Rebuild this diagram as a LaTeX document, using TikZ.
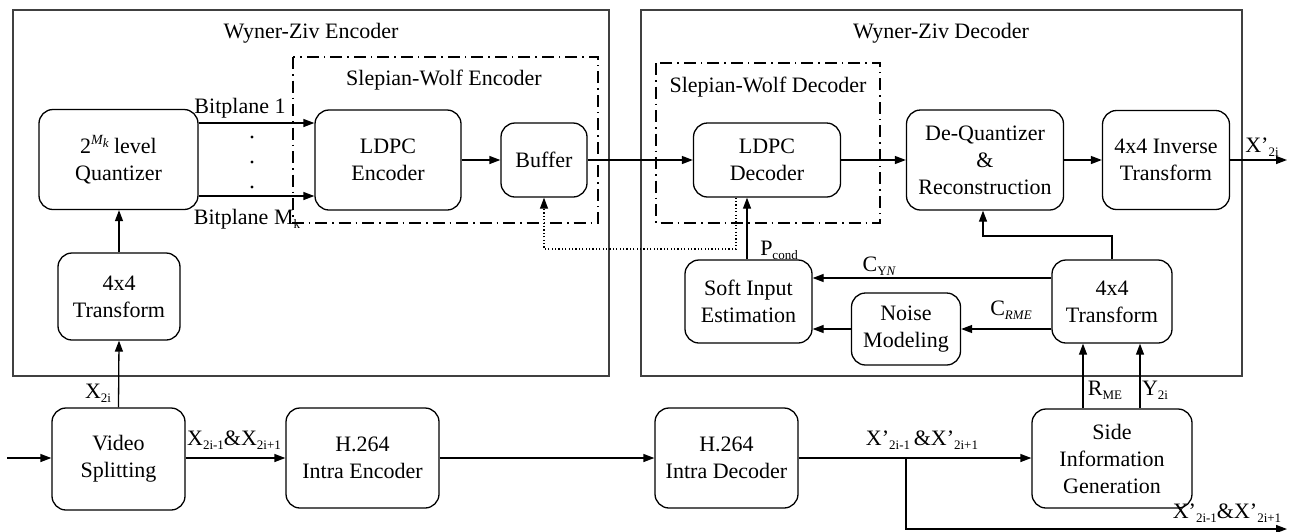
\documentclass[tikz,border=0pt]{standalone}
\usepackage{fontspec}
\setmainfont{Liberation Serif}
\usetikzlibrary{arrows.meta,calc}
\newcommand{\sbs}[1]{\raisebox{-0.4ex}{\fontsize{13}{13}\selectfont #1}}
\newcommand{\sps}[1]{\raisebox{0.85ex}{\fontsize{14}{14}\selectfont #1}}
\begin{document}
\begin{tikzpicture}[x=1pt,y=-1pt, font=\fontsize{22}{27}\selectfont,
  box/.style={draw, rounded corners=14pt, line width=1.3pt, align=center, inner sep=0pt},
  frame/.style={draw, line width=1.4pt, black!75},
  swbox/.style={draw, line width=1.2pt, dash pattern=on 12pt off 5pt on 1.5pt off 5pt},
  arr/.style={line width=1.3pt, -{Triangle[length=11pt,width=8pt]}},
  ln/.style={line width=1.3pt},
  dotl/.style={line width=1.2pt, dash pattern=on 1.2pt off 2.2pt, -{Triangle[length=11pt,width=8pt]}},
  lbl/.style={inner sep=0pt}]
\useasboundingbox (0,0) rectangle (1297,531);

% frames
\draw[frame] (13,10) rectangle (609,376);
\draw[frame] (641,10) rectangle (1242,376);
\draw[swbox] (293,57) rectangle (598,223);
\draw[swbox] (656,63) rectangle (880,223);
\node[lbl] (tenc-title) at (311,33) {Wyner-Ziv Encoder};
\node[lbl] (tdec-title) at (941,33) {Wyner-Ziv Decoder};
\node[lbl] (swe-title) at (444,80) {Slepian-Wolf Encoder};
\node[lbl] (swd-title) at (768,87) {Slepian-Wolf Decoder};

% boxes
\node[box, minimum width=159pt, minimum height=100pt] (quant) at (118.5,159.5) {2\sps{\itshape M\sbs{k}}\ level\\Quantizer};
\node[box, minimum width=122pt, minimum height=87pt] (tenc) at (119,296.5) {4x4\\Transform};
\node[box, minimum width=146pt, minimum height=100pt] (ldpce) at (388,160) {LDPC\\Encoder};
\node[box, minimum width=86pt, minimum height=74pt] (buffer) at (544,160) {Buffer};
\node[box, minimum width=147pt, minimum height=74pt] (ldpcd) at (767,160) {LDPC\\Decoder};
\node[box, minimum width=157pt, minimum height=100pt] (deq) at (985,160) {De-Quantizer\\\&\\Reconstruction};
\node[box, minimum width=127pt, minimum height=99pt] (invt) at (1166,160) {4x4 Inverse\\Transform};
\node[box, minimum width=127pt, minimum height=83pt] (soft) at (748.5,301.5) {Soft Input\\Estimation};
\node[box, minimum width=109pt, minimum height=72pt] (noise) at (906,329) {Noise\\Modeling};
\node[box, minimum width=120pt, minimum height=83pt] (tdec) at (1112,301.5) {4x4\\Transform};
\node[box, minimum width=133pt, minimum height=102pt] (vs) at (118.5,459) {Video\\Splitting};
\node[box, minimum width=153pt, minimum height=100pt] (h264e) at (362.5,458) {H.264\\Intra Encoder};
\node[box, minimum width=143pt, minimum height=100pt] (h264d) at (726.5,458) {H.264\\Intra Decoder};
\node[box, minimum width=160pt, minimum height=99pt] (sig) at (1112,458.5) {Side\\Information\\Generation};

% coordinates
\coordinate (bp1) at (0,123);
\coordinate (bpm) at (0,196);
\coordinate (in) at (7,458);
\coordinate (out) at (1287,160);
\coordinate (dt) at (736,249);
\coordinate (fb) at (983,236);
\coordinate (rme) at (1083,0);
\coordinate (y2i) at (1140,0);
\coordinate (br) at (906,458);
\coordinate (brend) at (1287,529);
\coordinate (cyn) at (0,278);

% encoder connectors
\draw[arr] (tenc.north) -- (quant.south -| tenc.north);
\draw[arr] (quant.east |- bp1) -- (ldpce.west |- bp1);
\draw[arr] (quant.east |- bpm) -- (ldpce.west |- bpm);
\node[lbl] (bpl1) at (240,108) {Bitplane 1};
\node[lbl] (bplm) at (247,219) {Bitplane M\sbs{k}};
\fill (252,137) circle (1.6pt) (252,162) circle (1.6pt) (252,187) circle (1.6pt);
\draw[arr] (ldpce.east) -- (buffer.west);
\draw[arr] (buffer.east) -- (ldpcd.west);

% decoder connectors
\draw[arr] (ldpcd.east) -- (deq.west);
\draw[arr] (deq.east) -- (invt.west);
\draw[arr] (invt.east) -- (out);
\node[lbl] (xo) at (1262,147) {X’\sbs{2i}};
\draw[arr] (soft.north -| 747,0) -- (ldpcd.south -| 747,0);
\node[lbl] (pc) at (779,250) {P\sbs{cond}};
\draw[dotl] (ldpcd.south -| dt) -- (dt) -- (dt -| buffer.south) -- (buffer.south);
\draw[arr] (tdec.west |- cyn) -- (soft.east |- cyn);
\node[lbl] (cynl) at (879,266) {C\sbs{Y\itshape N}};
\draw[arr] (tdec.west |- noise.east) -- (noise.east);
\node[lbl] (crme) at (1011,310) {C\sbs{\itshape RME}};
\draw[arr] (noise.west) -- (soft.east |- noise.west);
\draw[arr] (tdec.north) |- (fb) -- (fb |- deq.south);

% bottom row
\draw[arr] (vs.north) -- (tenc.south);
\node[lbl] (x2i) at (98,393) {X\sbs{2i}};
\draw[arr] (in) -- (vs.west |- in);
\draw[arr] (vs.east |- in) -- (h264e.west |- in);
\node[lbl] (xodd) at (234,440) {X\sbs{2i-1}\&X\sbs{2i+1}};
\draw[arr] (h264e.east |- in) -- (h264d.west |- in);
\draw[arr] (h264d.east |- in) -- (sig.west |- in);
\node[lbl] (xdec) at (922,440) {X’\sbs{2i-1}\,\&X’\sbs{2i+1}};
\draw[arr] (br) |- (brend);
\node[lbl] (xdec2) at (1227,513) {X’\sbs{2i-1}\&X’\sbs{2i+1}};
\draw[arr] (sig.north -| rme) -- (tdec.south -| rme);
\draw[arr] (sig.north -| y2i) -- (tdec.south -| y2i);
\node[lbl] (rmel) at (1105,390) {R\sbs{ME}};
\node[lbl] (y2il) at (1155,390) {Y\sbs{2i}};
\end{tikzpicture}
\end{document}
